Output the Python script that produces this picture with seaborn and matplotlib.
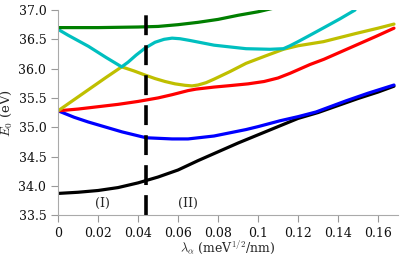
import matplotlib
matplotlib.use("Agg")
import matplotlib.pyplot as plt
import seaborn as sns
from matplotlib.ticker import FormatStrFormatter, FuncFormatter

# energy levels E0 (eV) vs lambda_alpha (meV^1/2/nm)
black_x = [0, 0.01, 0.02, 0.03, 0.04, 0.05, 0.06, 0.07, 0.08, 0.09, 0.1, 0.11, 0.12, 0.13, 0.14, 0.15, 0.16, 0.168]
black_y = [33.87, 33.89, 33.92, 33.97, 34.05, 34.15, 34.27, 34.43, 34.58, 34.73, 34.87, 35.01, 35.15, 35.25, 35.37, 35.49, 35.60, 35.70]

blue_x = [0, 0.008, 0.015, 0.024, 0.032, 0.044, 0.057, 0.065, 0.078, 0.094, 0.1, 0.111, 0.12, 0.129, 0.144, 0.155, 0.168]
blue_y = [35.28, 35.17, 35.09, 35.0, 34.92, 34.82, 34.80, 34.80, 34.85, 34.96, 35.01, 35.11, 35.18, 35.26, 35.45, 35.58, 35.72]

red_x = [0, 0.01, 0.02, 0.03, 0.04, 0.05, 0.057, 0.061, 0.065, 0.069, 0.078, 0.086, 0.095, 0.103, 0.11, 0.116, 0.126, 0.133, 0.141, 0.149, 0.159, 0.168]
red_y = [35.28, 35.31, 35.35, 35.39, 35.44, 35.50, 35.555, 35.59, 35.625, 35.65, 35.685, 35.71, 35.74, 35.78, 35.84, 35.92, 36.07, 36.16, 36.28, 36.40, 36.55, 36.69]

yellow_x = [0, 0.008, 0.016, 0.024, 0.0318, 0.038, 0.0435, 0.0485, 0.0535, 0.0585, 0.0635, 0.067, 0.070, 0.074, 0.078, 0.086, 0.094, 0.104, 0.1127, 0.12, 0.1327, 0.149, 0.16, 0.168]
yellow_y = [35.28, 35.47, 35.66, 35.85, 36.03, 35.96, 35.89, 35.83, 35.78, 35.74, 35.715, 35.705, 35.72, 35.76, 35.82, 35.95, 36.09, 36.22, 36.33, 36.39, 36.46, 36.60, 36.69, 36.76]

cyan_x = [0, 0.005, 0.0152, 0.024, 0.0318, 0.035, 0.039, 0.0435, 0.0485, 0.053, 0.057, 0.061, 0.066, 0.072, 0.078, 0.086, 0.094, 0.106, 0.1127, 0.116, 0.12, 0.126, 0.133, 0.141, 0.1485]
cyan_y = [36.67, 36.57, 36.38, 36.19, 36.03, 36.11, 36.23, 36.35, 36.45, 36.50, 36.52, 36.51, 36.48, 36.44, 36.40, 36.37, 36.34, 36.33, 36.34, 36.39, 36.46, 36.57, 36.70, 36.85, 37.0]

green_x = [0, 0.02, 0.04, 0.05, 0.06, 0.07, 0.08, 0.09, 0.1, 0.11]
green_y = [36.70, 36.70, 36.71, 36.72, 36.75, 36.79, 36.84, 36.91, 36.97, 37.05]

curves = [
    (black_x, black_y, "k"),
    (blue_x, blue_y, "#0000ff"),
    (red_x, red_y, "#ff0000"),
    (yellow_x, yellow_y, "#bfbf00"),
    (cyan_x, cyan_y, "#00bfbf"),
    (green_x, green_y, "#007f00"),
]

lam_cross = 0.044
region_labels = ["(I)", "(II)"]
region_x = [0.022, 0.065]

sns.set_style("ticks")
plt.rcParams["font.family"] = ["DejaVu Serif"]
plt.rcParams["mathtext.fontset"] = "cm"

fig = plt.figure(figsize=(4.15, 2.57), dpi=100)
ax = fig.add_axes([0.14, 0.163, 0.819, 0.798])

for xs, ys, c in curves:
    sns.lineplot(x=xs, y=ys, color=c, lw=2.3, ax=ax, sort=False)

ax.plot([lam_cross, lam_cross], [33.5, 36.92], color="k", lw=2.6, ls=(0, (5.5, 2.8)))

for s, xx in zip(region_labels, region_x):
    ax.text(xx, 33.58, s, ha="center", va="bottom", fontsize=9)

ax.set_xlim(0, 0.17)
ax.set_ylim(33.5, 37.0)
ax.set_xticks([0, 0.02, 0.04, 0.06, 0.08, 0.1, 0.12, 0.14, 0.16])
ax.xaxis.set_major_formatter(FuncFormatter(lambda v, p: "%g" % round(v, 3)))
ax.set_yticks([33.5, 34.0, 34.5, 35.0, 35.5, 36.0, 36.5, 37.0])
ax.yaxis.set_major_formatter(FormatStrFormatter("%.1f"))
ax.tick_params(labelsize=9, colors="#999999", labelcolor="#111111", length=5, width=0.8, pad=3.5)

sns.despine(ax=ax)
for sp in ["left", "bottom"]:
    ax.spines[sp].set_color("#aaaaaa")
    ax.spines[sp].set_linewidth(0.8)

ax.set_xlabel(r"$\lambda_\alpha$ (meV$^{1/2}$/nm)", fontsize=9, labelpad=-1)
ax.set_ylabel(r"$E_0$ (eV)", fontsize=9.5, labelpad=3)

fig.savefig("out.png", dpi=100)
